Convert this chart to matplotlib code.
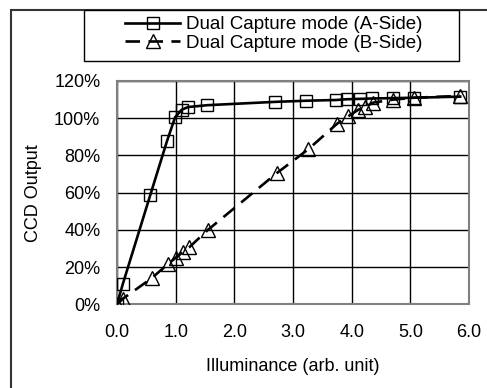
import matplotlib
matplotlib.use("Agg")
import matplotlib.pyplot as plt
from matplotlib.patches import Rectangle
from matplotlib.ticker import FuncFormatter

plt.rcParams['font.family'] = ['Liberation Sans', 'DejaVu Sans']

# Dual Capture mode, A-Side
a_x = [0.0, 0.10, 0.57, 0.85, 0.99, 1.10, 1.21, 1.54, 2.70, 3.23, 3.74, 3.92, 4.14, 4.35, 4.71, 5.06, 5.85]
a_y = [0.0, 11.0, 59.0, 87.5, 100.5, 104.5, 106.0, 107.0, 108.8, 109.4, 109.8, 110.2, 110.4, 110.6, 110.8, 111.0, 111.6]

# Dual Capture mode, B-Side
b_x = [0.0, 0.10, 0.59, 0.87, 1.00, 1.12, 1.23, 1.55, 2.72, 3.26, 3.75, 3.94, 4.11, 4.23, 4.37, 4.71, 5.06, 5.85]
b_y = [0.0, 3.0, 14.0, 21.7, 25.0, 28.0, 30.6, 40.0, 70.4, 83.3, 97.0, 101.0, 104.5, 106.0, 108.4, 110.0, 111.0, 112.0]

labels = ['Dual Capture mode (A-Side)', 'Dual Capture mode (B-Side)']
x_ticks = [0, 1, 2, 3, 4, 5, 6]
y_ticks = [0, 20, 40, 60, 80, 100, 120]

W, H = 487, 388
fig = plt.figure(figsize=(W / 100, H / 100), dpi=100)
ax = fig.add_axes([117 / W, 1 - 304.3 / H, (469 - 117) / W, (304.3 - 81) / H])

ax.plot(a_x, a_y, '-', color='black', lw=1.9, marker='s', ms=9,
        mfc='none', mec='black', mew=1.0, label=labels[0], zorder=3)
ax.plot(b_x, b_y, color='black', lw=1.9, dashes=(5.5, 3.2), marker='^', ms=9.5,
        mfc='none', mec='black', mew=1.0, label=labels[1], zorder=3)

ax.set_xlim(0, 6)
ax.set_ylim(0, 120)
ax.set_xticks(x_ticks)
ax.set_yticks(y_ticks)
ax.xaxis.set_major_formatter(FuncFormatter(lambda v, p: f'{v:.1f}'))
ax.yaxis.set_major_formatter(FuncFormatter(lambda v, p: f'{v:.0f}%'))
ax.tick_params(axis='both', length=0, labelsize=13)
ax.tick_params(axis='y', pad=12)
ax.tick_params(axis='x', pad=14)
ax.grid(True, color='black', lw=1.0)
ax.set_axisbelow(True)
for s in ax.spines.values():
    s.set_color('#808080')
    s.set_linewidth(1.5)

ax.set_xlabel('Illuminance (arb. unit)', fontsize=13)
ax.xaxis.set_label_coords(0.5, (304.3 - 358) / (304.3 - 81))
ax.set_ylabel('CCD Output', fontsize=13)
ax.yaxis.set_label_coords((42 - 117) / (469 - 117), 0.5)

# outer frame and legend box
fig.patches.append(Rectangle((11 / W, -0.1), 1.2, 1 - 10 / H + 0.1,
                             transform=fig.transFigure, fill=False,
                             ec='#333333', lw=1.5))
fig.patches.append(Rectangle((84 / W, 1 - 61 / H), 375 / W, 51 / H,
                             transform=fig.transFigure, fc='white',
                             ec='black', lw=1.0))

fig.legend(loc='upper left', bbox_to_anchor=(125 / W, 1 - 16 / H),
           frameon=False, fontsize=13.5, handlelength=2.95, handletextpad=0.3,
           borderpad=0, borderaxespad=0, labelspacing=0.07)

fig.savefig('out.png', dpi=100)
